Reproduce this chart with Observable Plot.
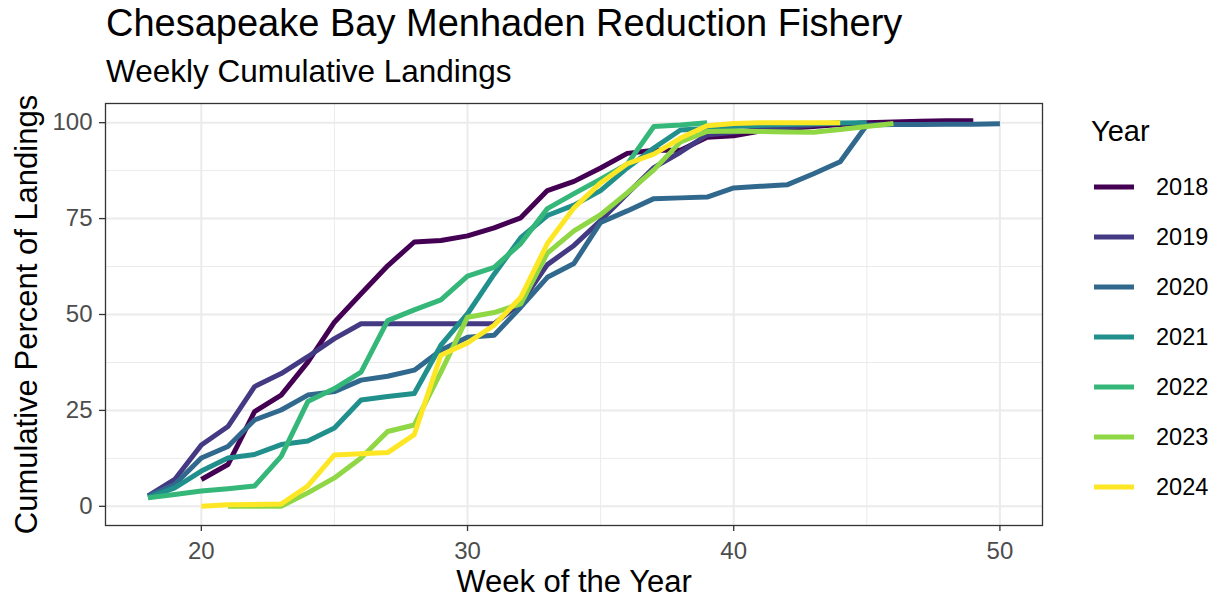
<!DOCTYPE html>
<html>
<head>
<meta charset="utf-8">
<script src="https://cdn.jsdelivr.net/npm/d3@7"></script>
<script src="https://cdn.jsdelivr.net/npm/@observablehq/plot@0.6"></script>
<style>
  html, body { margin: 0; padding: 0; background: #fff; }
  #wrap { position: relative; width: 1220px; height: 603px; overflow: hidden; font-family: "Liberation Sans", Arial, sans-serif; color: #000; }
  .t { position: absolute; white-space: nowrap; }
  #chart { position: absolute; left: 0; top: 92px; width: 1220px; }
</style>
</head>
<body>
<div id="wrap">
  <div class="t" id="title" style="left:106px; top:4px; font-size:38px; line-height:38px;"></div>
  <div class="t" id="subtitle" style="left:106px; top:56px; font-size:31.5px; line-height:31.5px;"></div>
  <div id="chart"></div>
  <div id="legend"></div>
</div>
<script>
// ---- data ----
const titleText = "Chesapeake Bay Menhaden Reduction Fishery";
const subtitleText = "Weekly Cumulative Landings";
const xLabel = "Week of the Year";
const yLabel = "Cumulative Percent of Landings";
const legendTitle = "Year";

const years = ["2018", "2019", "2020", "2021", "2022", "2023", "2024"];
const colors = ["#440154", "#443a83", "#31688e", "#21908c", "#35b779", "#8fd744", "#fde725"];

const xTicks = [20, 30, 40, 50];
const xMinor = [25, 35, 45];
const yTicks = [0, 25, 50, 75, 100];
const yMinor = [12.5, 37.5, 62.5, 87.5];

// first week of each season's series
const startWeek = { "2018": 20, "2019": 18, "2020": 18, "2021": 18, "2022": 18, "2023": 21, "2024": 20 };

const pct2018 = [7, 10.9, 24.7, 29, 37.6, 48, 55.4, 62.7, 68.9, 69.3, 70.5, 72.6, 75.2, 82.3, 84.7, 88.2, 92, 92.8, 92.8, 96.2, 96.6, 97.8, 98.5, 99.0, 99.5, 100.0, 100.2, 100.4, 100.5, 100.5];
const pct2019 = [2.7, 7, 16, 20.8, 31.2, 34.6, 39, 43.7, 47.6, 47.6, 47.6, 47.6, 47.6, 47.6, 53, 63, 68, 74.5, 81.5, 88.3, 92.3, 96.8, 97.5, 98.2, 98.8, 99.4, 100];
const pct2020 = [2.7, 5.7, 12.6, 15.6, 22.5, 25.1, 29, 29.9, 32.9, 33.9, 35.5, 40.7, 44.1, 44.6, 51.9, 59.7, 63.3, 74, 77, 80.2, 80.4, 80.6, 83, 83.4, 83.8, 86.7, 89.8, 99.4, 99.5, 99.5, 99.6, 99.6, 99.7];
const pct2021 = [2.2, 4.8, 9.2, 12.6, 13.5, 16.1, 17, 20.4, 27.7, 28.6, 29.4, 42, 50.2, 60.5, 70, 75.8, 78.5, 82.3, 88.2, 93.4, 98.1, 98.5, 99, 99.3, 99.5, 99.7, 99.9, 100];
const pct2022 = [2.2, 3.1, 4, 4.6, 5.3, 13, 27.3, 30.7, 35, 48.4, 51.2, 53.8, 60, 62.3, 68.5, 77.6, 81.5, 85.3, 89.2, 99, 99.4, 100];
const pct2023 = [0, 0, 0, 3.5, 7.4, 12.6, 19.5, 21.2, 35, 49.3, 50.5, 52.8, 66, 71.8, 76, 81.7, 87.7, 95, 97.7, 97.8, 97.7, 97.6, 97.5, 98.2, 99, 99.8];
const pct2024 = [0, 0.4, 0.5, 0.6, 5.3, 13.4, 13.7, 14, 18.7, 39.4, 42.6, 47.2, 54.5, 68.5, 77.8, 84.3, 89.3, 91.8, 96, 99.2, 99.8, 100, 100, 100, 100];

const pctByYear = { "2018": pct2018, "2019": pct2019, "2020": pct2020, "2021": pct2021, "2022": pct2022, "2023": pct2023, "2024": pct2024 };

// ---- build table ----
const rows = [];
for (const yr of years) {
  pctByYear[yr].forEach((v, i) => rows.push({ year: yr, week: startWeek[yr] + i, pct: v }));
}

document.getElementById("title").textContent = titleText;
document.getElementById("subtitle").textContent = subtitleText;

const font = "Liberation Sans, Arial, sans-serif";

const chart = Plot.plot({
  width: 1220,
  height: 511,
  marginLeft: 105,
  marginRight: 178,
  marginTop: 11,
  marginBottom: 78,
  style: { fontFamily: font, background: "white", overflow: "visible" },
  x: { domain: [16.4, 51.6] },
  y: { domain: [-5, 105] },
  color: { domain: years, range: colors },
  marks: [
    Plot.gridX(xMinor, { stroke: "#ebebeb", strokeOpacity: 1, strokeWidth: 1 }),
    Plot.gridY(yMinor, { stroke: "#ebebeb", strokeOpacity: 1, strokeWidth: 1 }),
    Plot.gridX(xTicks, { stroke: "#ebebeb", strokeOpacity: 1, strokeWidth: 2 }),
    Plot.gridY(yTicks, { stroke: "#ebebeb", strokeOpacity: 1, strokeWidth: 2 }),
    Plot.line(rows, { x: "week", y: "pct", z: "year", stroke: "year", strokeWidth: 5, strokeLinecap: "butt", strokeLinejoin: "round" }),
    Plot.frame({ stroke: "#333333", strokeWidth: 1.3 }),
    Plot.axisX(xTicks, { tickSize: 6, tickPadding: 10, fontSize: 24, stroke: "#333333", strokeWidth: 1.3, fill: "#4d4d4d", label: null }),
    Plot.axisY(yTicks, { tickSize: 6, tickPadding: 7, fontSize: 24, stroke: "#333333", strokeWidth: 1.3, fill: "#4d4d4d", label: null }),
    Plot.text([xLabel], { frameAnchor: "bottom", lineAnchor: "middle", textAnchor: "middle", dy: 57, fontSize: 31, fill: "black", text: d => d }),
    Plot.text([yLabel], { frameAnchor: "left", lineAnchor: "middle", textAnchor: "middle", dx: -78, rotate: -90, fontSize: 31, fill: "black", text: d => d })
  ]
});
document.getElementById("chart").appendChild(chart);

// ---- legend ----
const legend = document.getElementById("legend");
const lt = document.createElement("div");
lt.className = "t";
lt.style.cssText = "left:1091px; top:117px; font-size:29px; line-height:29px;";
lt.textContent = legendTitle;
legend.appendChild(lt);
years.forEach((yr, i) => {
  const cy = 187 + 50 * i;
  const key = document.createElementNS("http://www.w3.org/2000/svg", "svg");
  key.setAttribute("width", 40);
  key.setAttribute("height", 10);
  key.style.cssText = `position:absolute; left:1094px; top:${cy - 5}px;`;
  const ln = document.createElementNS("http://www.w3.org/2000/svg", "line");
  ln.setAttribute("x1", 0); ln.setAttribute("x2", 40);
  ln.setAttribute("y1", 5); ln.setAttribute("y2", 5);
  ln.setAttribute("stroke", colors[i]);
  ln.setAttribute("stroke-width", 5);
  key.appendChild(ln);
  legend.appendChild(key);
  const lab = document.createElement("div");
  lab.className = "t";
  lab.style.cssText = `left:1156px; top:${cy - 11}px; font-size:23.5px; line-height:23.5px;`;
  lab.textContent = yr;
  legend.appendChild(lab);
});
</script>
</body>
</html>
